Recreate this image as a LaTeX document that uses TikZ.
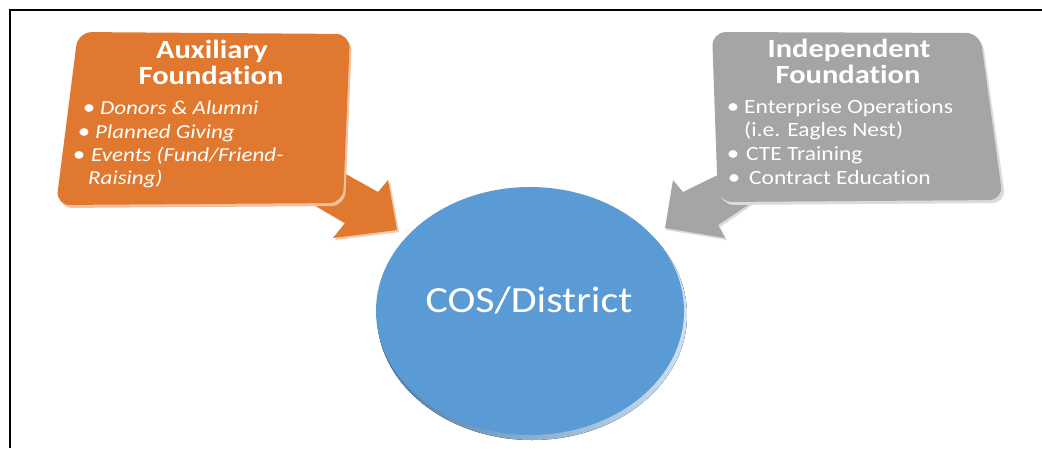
\documentclass[tikz,border=0pt]{standalone}
\usepackage{fontspec}
\setmainfont{Carlito}[Ligatures=NoCommon]
\usepackage{graphicx}
\usetikzlibrary{shapes.geometric}

\definecolor{auxorange}{HTML}{E1782F}
\definecolor{indgray}{HTML}{A5A5A5}
\definecolor{cosblue}{HTML}{5B9BD5}

% flatten text a little, as the tilted shapes do
\newcommand{\vsq}[2][0.86]{\scalebox{1}[#1]{#2}}

\begin{document}
\begin{tikzpicture}[x=1pt,y=-1pt,
  boxtitle/.style={font=\fontsize{30.5}{30.5}\selectfont\bfseries, text=white, inner sep=0pt, anchor=base},
  auxitem/.style={font=\fontsize{23}{23}\selectfont\itshape, text=white, inner sep=0pt, anchor=base west},
  inditem/.style={font=\fontsize{23.5}{23.5}\selectfont, text=white, inner sep=0pt, anchor=base west},
  dot/.style={font=\fontsize{25}{25}\selectfont, text=white, inner sep=0pt, anchor=base},
  panel/.style={rounded corners=14pt},
]
\useasboundingbox (0,0) rectangle (1042,448);
\fill[white] (0,0) rectangle (1042,448);

% frame
\draw[line width=2.2pt] (10,448) -- (10,10) -- (1042,10);

% ---- left block arrow and panel ----
\fill[auxorange!40!white] (330,166) -- (380,194) -- (390,182) -- (399,232) -- (335,240) -- (347,225) -- (306,201) -- cycle;
\fill[auxorange] (328,164) -- (378,192) -- (388,180) -- (397,230) -- (333,238) -- (345,223) -- (304,199) -- cycle;

\fill[auxorange!45!white, panel] (80,35) -- (352,37) -- (345,206) -- (58,208) -- cycle;
\fill[auxorange, panel] (78,32) -- (350,34) -- (343,203) -- (56,205) -- cycle;

\node[boxtitle] (auxA) at (212,58) {\vsq{Auxiliary}};
\node[boxtitle] (auxB) at (211,84) {\vsq{Foundation}};
\node[dot] (auxdA) at (89,114) {\vsq{•}};
\node[auxitem] (auxiA) at (100,114) {\vsq{Donors \& Alumni}};
\node[dot] (auxdB) at (84,138) {\vsq{•}};
\node[auxitem] (auxiB) at (95,138) {\vsq{Planned Giving}};
\node[dot] (auxdC) at (79,161) {\vsq{•}};
\node[auxitem] (auxiC) at (91,161) {\vsq{Events (Fund/Friend-}};
\node[auxitem] (auxiD) at (88,184) {\vsq{Raising)}};

% ---- right block arrow and panel ----
\fill[indgray!40!white] (741,166) -- (684,194) -- (674,182) -- (666,230) -- (727,240) -- (720,227) -- (761,199) -- cycle;
\fill[indgray] (740,164) -- (683,192) -- (673,180) -- (665,228) -- (725,238) -- (718,225) -- (760,197) -- cycle;

\fill[indgray!40!white, panel] (714,35) -- (982,36) -- (1006,203) -- (720,205) -- cycle;
\fill[indgray, panel] (712,32) -- (980,33) -- (1003,200) -- (718,202) -- cycle;

\node[boxtitle] (indA) at (849,57) {\vsq{Independent}};
\node[boxtitle] (indB) at (848,83) {\vsq{Foundation}};
\node[dot] (inddA) at (733,113) {\vsq{•}};
\node[inditem] (indiA) at (744,113) {\vsq{Enterprise Operations}};
\node[inditem] (indiB) at (744,136) {\vsq{(i.e. Eagles Nest)}};
\node[dot] (inddB) at (733,160) {\vsq{•}};
\node[inditem] (indiC) at (746,160) {\vsq{CTE Training}};
\node[dot] (inddC) at (734,184) {\vsq{•}};
\node[inditem] (indiD) at (749,184) {\vsq{Contract Education}};

% ---- central disc ----
\fill[left color=cosblue!80!black, right color=cosblue!30!white]
  (532,315) ellipse [x radius=155pt, y radius=125pt];
\node[ellipse, fill=cosblue, minimum width=308pt, minimum height=248pt, inner sep=0pt]
  (district) at (530,311) {};
\node[font=\fontsize{42}{42}\selectfont, text=white, inner sep=0pt, anchor=base]
  (districtlabel) at (529,312) {\vsq[0.88]{COS/District}};
\end{tikzpicture}
\end{document}
